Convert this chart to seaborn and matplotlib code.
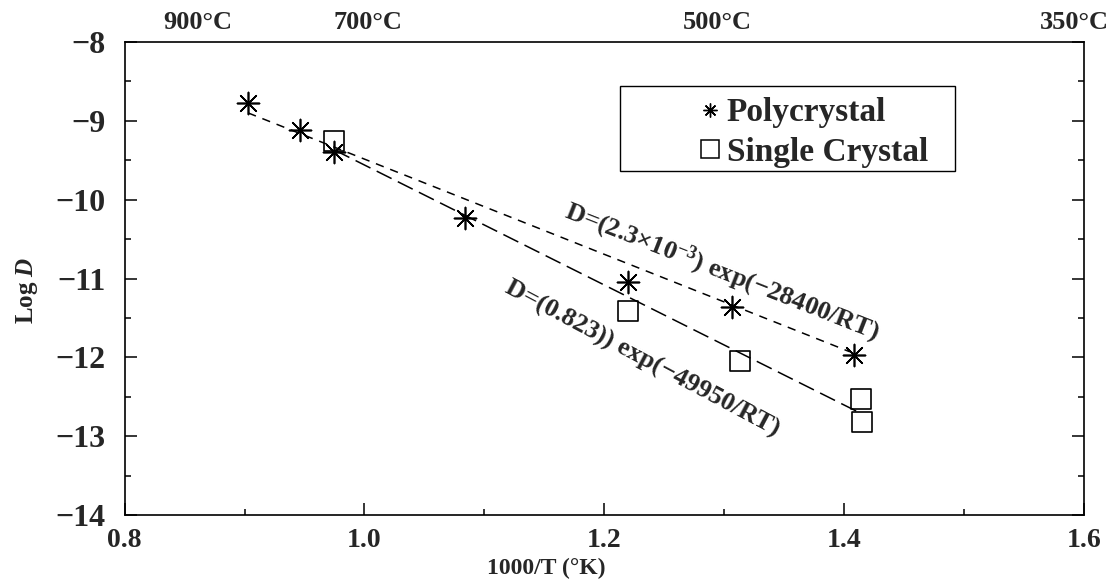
import numpy as np
import pandas as pd
import matplotlib
matplotlib.use("Agg")
import matplotlib.pyplot as plt
import matplotlib.transforms as mtransforms
import seaborn as sns
from matplotlib.lines import Line2D
from matplotlib.patches import Rectangle
from matplotlib.ticker import MultipleLocator

# polycrystal data (1000/T, log D)
poly_x = [0.903, 0.946, 0.975, 1.084, 1.220, 1.307, 1.408]
poly_y = [-8.77, -9.12, -9.40, -10.23, -11.05, -11.36, -11.97]

# single crystal data
single_x = [0.975, 1.220, 1.313, 1.414, 1.415]
single_y = [-9.26, -11.41, -12.05, -12.53, -12.82]

# fitted lines (end points)
poly_fit_x = [0.903, 1.405]
poly_fit_y = [-8.90, -11.93]
single_fit_x = [0.975, 1.414]
single_fit_y = [-9.37, -12.71]

# temperature scale on top
temp_labels = ["900°C", "700°C", "500°C", "350°C"]
temp_pos = [0.861, 1.003, 1.294, 1.592]

sns.set_theme(style="ticks")
plt.rcParams["font.family"] = ["Liberation Serif", "DejaVu Serif"]
plt.rcParams["font.weight"] = "bold"
plt.rcParams["axes.labelweight"] = "bold"
plt.rcParams["mathtext.fontset"] = "custom"
plt.rcParams["mathtext.rm"] = "Liberation Serif:bold"
plt.rcParams["mathtext.it"] = "Liberation Serif:italic:bold"
plt.rcParams["mathtext.bf"] = "Liberation Serif:bold"
plt.rcParams["lines.scale_dashes"] = False

fig, ax = plt.subplots(figsize=(11.17, 5.88), dpi=100)
fig.subplots_adjust(left=0.1116, right=0.9702, bottom=0.1241, top=0.9286)

# fit lines
sns.lineplot(x=poly_fit_x, y=poly_fit_y, ax=ax, color="black", linewidth=1.1)
ax.lines[-1].set_dashes([6, 5])
sns.lineplot(x=single_fit_x, y=single_fit_y, ax=ax, color="black", linewidth=1.1)
ax.lines[-1].set_dashes([12, 5])

# data points
sns.scatterplot(x=poly_x, y=poly_y, ax=ax, marker=(8, 2, 0), s=250,
                color="black", linewidth=1.2, zorder=3)
sns.scatterplot(x=single_x, y=single_y, ax=ax, marker="s", s=207,
                facecolor="none", edgecolor="black", linewidth=1.2, zorder=3)

ax.set_xlim(0.8, 1.6)
ax.set_ylim(-14, -8)
ax.xaxis.set_major_locator(MultipleLocator(0.2))
ax.xaxis.set_minor_locator(MultipleLocator(0.1))
ax.yaxis.set_major_locator(MultipleLocator(1))
ax.yaxis.set_minor_locator(MultipleLocator(0.5))
ax.tick_params(which="both", direction="in", top=False, right=True,
               left=True, bottom=True, width=1.1, color="black")
ax.tick_params(which="major", length=8.5)
ax.tick_params(which="minor", length=4.5)
ax.tick_params(axis="x", which="major", labelsize=20, pad=9)
ax.tick_params(axis="y", which="major", labelsize=23, pad=14)
for lab in ax.get_xticklabels() + ax.get_yticklabels():
    lab.set_fontweight("bold")
for sp in ax.spines.values():
    sp.set_visible(True)
    sp.set_linewidth(1.2)
    sp.set_color("black")

ax.set_xlabel("1000/T (°K)", fontsize=17, fontweight="bold")
ax.xaxis.label.set_va("center")
ax.xaxis.set_label_coords(0.44, -0.113)
ax.set_ylabel("Log $D$", fontsize=18, fontweight="bold")
ax.yaxis.label.set_va("center")
ax.yaxis.set_label_coords(-0.102, 0.476)

trans = mtransforms.blended_transform_factory(ax.transData, ax.transAxes)
for lab, xp in zip(temp_labels, temp_pos):
    ax.text(xp, 1.042, lab, transform=trans, ha="center", va="center",
            fontsize=19, fontweight="bold", clip_on=False)

# equations along the fit lines
ax.text(1.298, -10.92, "D=(2.3×10$^{-3}$) exp(−28400/RT)", rotation=-21.5,
        rotation_mode="anchor", ha="center", va="center", fontsize=19,
        fontweight="bold")
ax.text(1.232, -12.02, "D=(0.823)) exp(−49950/RT)", rotation=-28,
        rotation_mode="anchor", ha="center", va="center", fontsize=19,
        fontweight="bold")

# legend with its own frame
ax.add_patch(Rectangle((0.5165, 0.727), 0.349, 0.180, transform=ax.transAxes,
                       facecolor="white", edgecolor="black", linewidth=1.0,
                       zorder=4))
handles = [
    Line2D([], [], marker=(8, 2, 0), color="black", linestyle="none",
           markersize=10, markeredgewidth=1.0),
    Line2D([], [], marker="s", markerfacecolor="none", markeredgecolor="black",
           linestyle="none", markersize=13, markeredgewidth=1.1),
]
leg = ax.legend(handles, ["Polycrystal", "Single Crystal"], loc="center left",
                bbox_to_anchor=(0.600, 0.8087), frameon=False,
                prop={"family": "Liberation Serif", "weight": "bold", "size": 24},
                handlelength=0.6, handletextpad=0.2, borderpad=0,
                borderaxespad=0, labelspacing=0.25)
leg.set_zorder(5)

fig.savefig("out.png", dpi=100, facecolor="white")
